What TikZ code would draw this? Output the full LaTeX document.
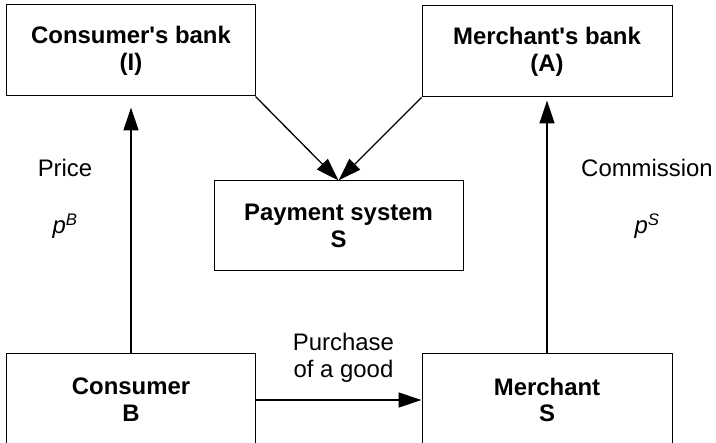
\documentclass[tikz,border=0pt]{standalone}
\usepackage{fontspec}
\setmainfont{Liberation Sans}
\usetikzlibrary{arrows.meta}
\tikzset{
    box/.style = {rectangle,
                  fill=white,
                  draw=black,
                  text=black,
                  line width=1bp,
                  align=center,
                  font=\fontsize{24}{27}\selectfont\bfseries,
                  inner sep=0pt},
    lbl/.style = {text=black,
                  align=center,
                  font=\fontsize{24}{27}\selectfont,
                  inner sep=0pt},
    flow/.style = {line width=1.3bp,
                  -{Triangle[length=23bp,width=15bp]}}
}
\begin{document}
\begin{tikzpicture}[x=1bp,y=-1bp]
    \clip (0,0) rectangle (716,443);
    \node[box, minimum width=248bp, minimum height=91bp] (ibank) at (131,50.5) {Consumer\textquotesingle s bank\\(I)};
    \node[box, minimum width=250bp, minimum height=91bp] (mbank) at (547,51.5) {Merchant\textquotesingle s bank\\(A)};
    \node[box, minimum width=249bp, minimum height=90bp] (psys)  at (338.5,226) {Payment system\\S};
    \node[box, minimum width=248bp, minimum height=92bp] (cons)  at (131,400) {Consumer\\B};
    \node[box, minimum width=250bp, minimum height=92bp] (merch) at (547,400) {Merchant\\S};

    \node[lbl, anchor=base] (price) at (65,177)  {Price};
    \node[lbl, anchor=base] (pB)    at (65,234)  {\textit{p}\textsuperscript{\textit{B}}};
    \node[lbl, anchor=base] (comm)  at (647,177) {Commission};
    \node[lbl, anchor=base] (pS)    at (647,234) {\textit{p}\textsuperscript{\textit{S}}};

    \draw[flow] (ibank.south east) -- (psys.north);
    \draw[flow] (mbank.south west) -- (psys.north);
    \draw[flow, shorten >=11bp] (cons.north) -- (ibank.south);
    \draw[flow, shorten >=3bp] (merch.north) -- (mbank.south);
    \path (cons.east) edge[flow] node[lbl, above=17bp, xshift=5bp] (buy) {Purchase\\of a good} (merch.west);
\end{tikzpicture}
\end{document}
